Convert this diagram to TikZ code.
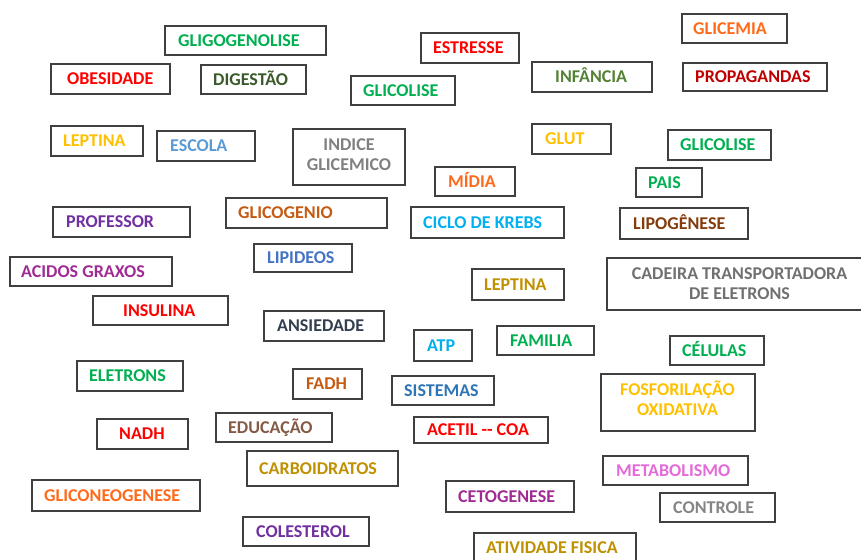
\documentclass[tikz,border=0pt]{standalone}
\usepackage{fontspec}
\setmainfont{Carlito}
\usetikzlibrary{fit}
\definecolor{cgreen}{HTML}{00B050}
\definecolor{cred}{HTML}{FF0000}
\definecolor{cdkgreen}{HTML}{3B5A2B}
\definecolor{cyellow}{HTML}{FFC000}
\definecolor{cltblue}{HTML}{5B9BD5}
\definecolor{cgray}{HTML}{808080}
\definecolor{colive}{HTML}{548235}
\definecolor{corange}{HTML}{FF6A1A}
\definecolor{cdkred}{HTML}{C00000}
\definecolor{cpurple}{HTML}{7030A0}
\definecolor{corbrown}{HTML}{C55A11}
\definecolor{cblue}{HTML}{4472C4}
\definecolor{cmagenta}{HTML}{A02B93}
\definecolor{cslate}{HTML}{323F4F}
\definecolor{ccyan}{HTML}{00B0F0}
\definecolor{cdkgold}{HTML}{BF9000}
\definecolor{cbrown}{HTML}{843C0C}
\definecolor{cgraytwo}{HTML}{707070}
\definecolor{ceduc}{HTML}{835A46}
\definecolor{csys}{HTML}{2E75B6}
\definecolor{cpink}{HTML}{E36AD7}
\definecolor{cgraythree}{HTML}{858585}
\definecolor{cborder}{HTML}{404040}
\tikzset{
  boxst/.style={draw=cborder, line width=1.3pt, inner sep=0pt, rectangle},
  txtst/.style={inner sep=0pt, font=\bfseries\fontsize{18}{20}\selectfont}
}
\newcommand\bx[8]{%
  \node[boxst, fit={(#2,#3) (#4,#5)}] (#1) {};
  \node[txtst, text=#6, anchor=base west] (#1-t) at (#7,{(#3+#5)/2+5.8}) {#8};
}
\begin{document}
\begin{tikzpicture}[x=1pt,y=-1pt]
\useasboundingbox (0,0) rectangle (861,559);
\clip (0,0) rectangle (861,559);
\bx{glig}{165}{26}{326}{55}{cgreen}{178}{GLIGOGENOLISE}
\bx{obes}{51}{64}{170}{94}{cred}{67}{OBESIDADE}
\bx{dige}{201}{65}{306}{94}{cdkgreen}{213}{DIGESTÃO}
\bx{lepa}{51}{126}{143}{156}{cyellow}{63}{LEPTINA}
\bx{esco}{157}{131}{255}{161}{cltblue}{170}{ESCOLA}
\node[boxst, fit={(293,129) (405,185)}] (indi) {};
\node[txtst, text=cgray, anchor=base] (indi-a) at (349,150) {INDICE};
\node[txtst, text=cgray, anchor=base] (indi-b) at (349,170) {GLICEMICO};
\bx{estr}{421}{33}{519}{63}{cred}{433}{ESTRESSE}
\bx{glca}{351}{76}{455}{105}{cgreen}{363}{GLICOLISE}
\bx{infa}{532}{62}{652}{92}{colive}{555}{INFÂNCIA}
\bx{glut}{532}{124}{611}{154}{cyellow}{545}{GLUT}
\bx{midi}{435}{167}{515}{196}{corange}{448}{MÍDIA}
\bx{glce}{682}{14}{787}{43}{corange}{693}{GLICEMIA}
\bx{prop}{683}{63}{827}{91}{cdkred}{695}{PROPAGANDAS}
\bx{glcb}{668}{130}{771}{160}{cgreen}{680}{GLICOLISE}
\bx{pais}{636}{168}{702}{197}{cgreen}{648}{PAIS}
\bx{prof}{53}{207}{190}{237}{cpurple}{66}{PROFESSOR}
\bx{gcgn}{226}{198}{387}{228}{corbrown}{238}{GLICOGENIO}
\bx{lipi}{254}{244}{352}{272}{cblue}{267}{LIPIDEOS}
\bx{acid}{10}{257}{172}{286}{cmagenta}{21}{ACIDOS GRAXOS}
\bx{insu}{93}{296}{228}{325}{cred}{123}{INSULINA}
\bx{ansi}{264}{311}{384}{341}{cslate}{277}{ANSIEDADE}
\bx{kreb}{411}{207}{564}{238}{ccyan}{423}{CICLO DE KREBS}
\bx{lepb}{472}{269}{564}{300}{cdkgold}{484}{LEPTINA}
\bx{atp}{414}{330}{472}{361}{ccyan}{427}{ATP}
\bx{fami}{497}{326}{594}{355}{cgreen}{510}{FAMILIA}
\bx{lipo}{620}{208}{748}{239}{cbrown}{633}{LIPOGÊNESE}
\node[boxst, fit={(607,258) (866,310)}] (cade) {};
\node[txtst, text=cgraytwo, anchor=base] (cade-a) at (739.5,279) {CADEIRA TRANSPORTADORA};
\node[txtst, text=cgraytwo, anchor=base] (cade-b) at (739.5,299) {DE ELETRONS};
\bx{celu}{670}{336}{764}{365}{cgreen}{682}{CÉLULAS}
\bx{elet}{77}{361}{183}{391}{cgreen}{89}{ELETRONS}
\bx{nadh}{97}{419}{188}{449}{cred}{119}{NADH}
\bx{educ}{216}{413}{332}{442}{ceduc}{228}{EDUCAÇÃO}
\bx{carb}{247}{451}{398}{486}{cdkgold}{259}{CARBOIDRATOS}
\bx{gneo}{32}{480}{200}{511}{corange}{44}{GLICONEOGENESE}
\bx{cole}{243}{517}{369}{546}{cpurple}{256}{COLESTEROL}
\bx{fadh}{293}{369}{362}{399}{corbrown}{306}{FADH}
\bx{sist}{392}{376}{494}{405}{csys}{404}{SISTEMAS}
\bx{acet}{414}{417}{548}{443}{cred}{427}{ACETIL -{}- COA}
\bx{ceto}{446}{481}{574}{512}{cmagenta}{458}{CETOGENESE}
\bx{ativ}{474}{533}{636}{563}{cdkgold}{486}{ATIVIDADE FISICA}
\node[boxst, fit={(601,374) (755,431)}] (fosf) {};
\node[txtst, text=cyellow, anchor=base] (fosf-a) at (677.5,395) {FOSFORILAÇÃO};
\node[txtst, text=cyellow, anchor=base] (fosf-b) at (677.5,415) {OXIDATIVA};
\bx{meta}{603}{456}{748}{485}{cpink}{616}{METABOLISMO}
\bx{cont}{660}{493}{775}{522}{cgraythree}{673}{CONTROLE}
\end{tikzpicture}
\end{document}
